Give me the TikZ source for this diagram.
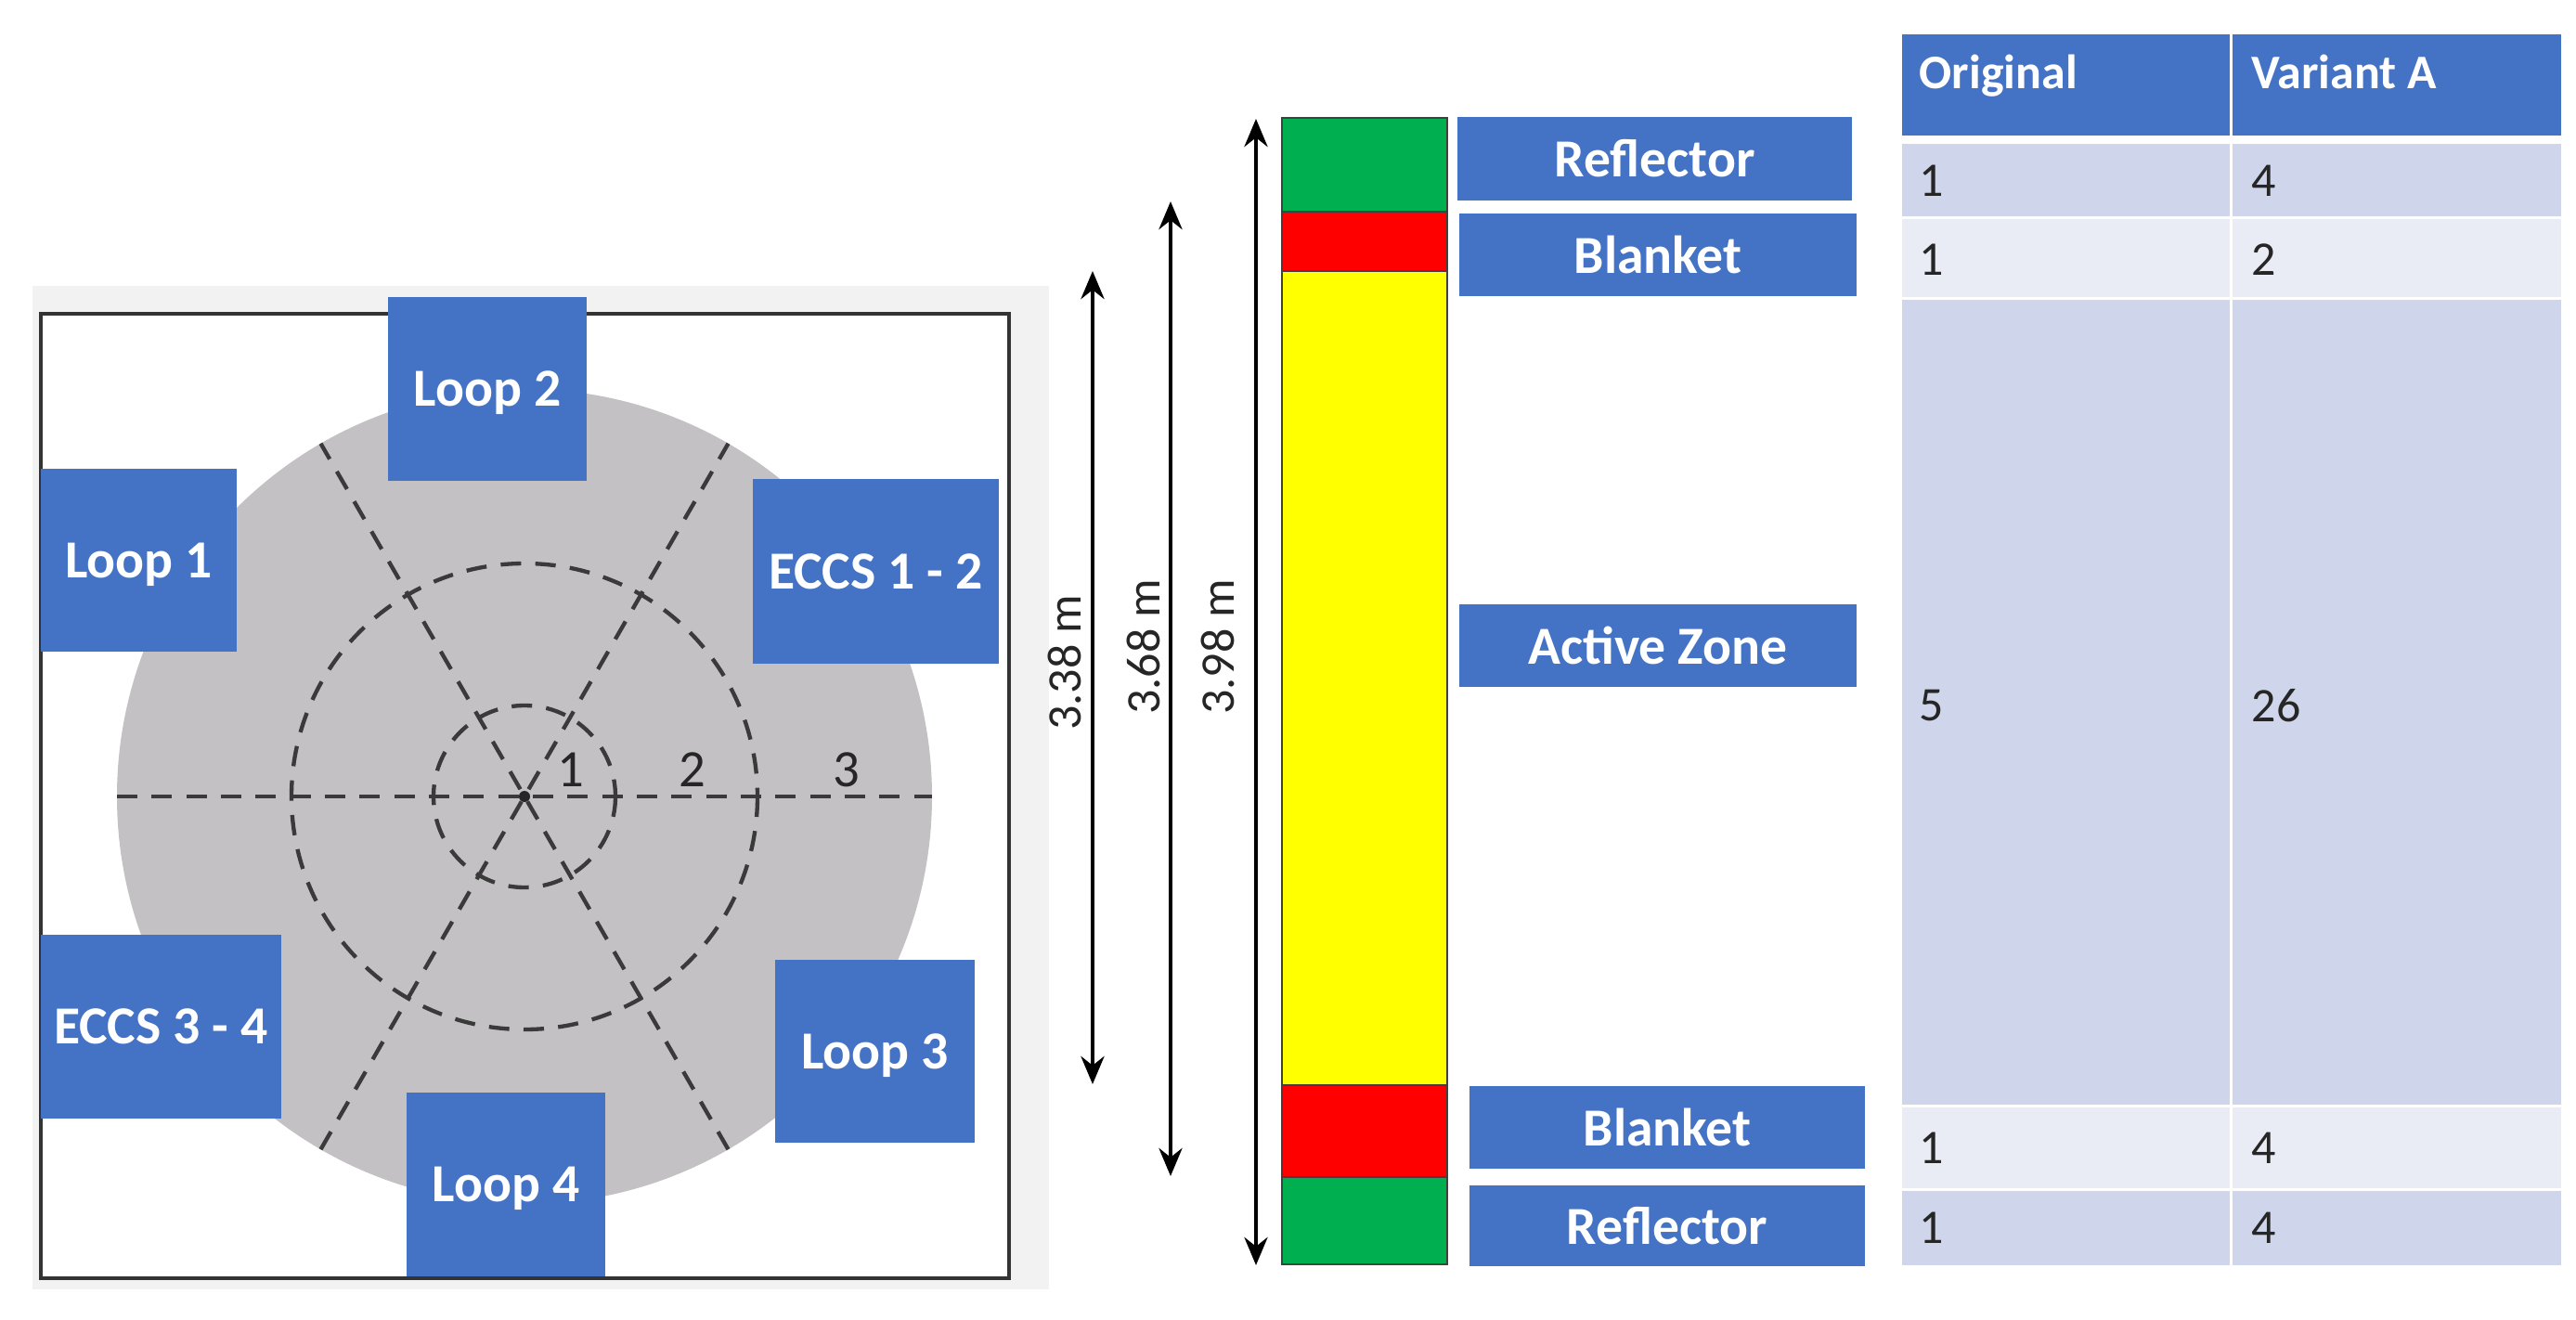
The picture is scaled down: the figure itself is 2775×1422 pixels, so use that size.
\documentclass[tikz,border=0pt]{standalone}
\usepackage{fontspec}
\setmainfont{Carlito}
\usetikzlibrary{arrows.meta,calc}
\definecolor{hdr}{HTML}{4472C4}
\definecolor{rowa}{HTML}{CFD5EA}
\definecolor{rowb}{HTML}{E9EBF5}
\definecolor{panel}{HTML}{F2F2F2}
\definecolor{disc}{HTML}{C3C1C3}
\definecolor{dashc}{HTML}{3A3A3A}
\definecolor{seg green}{HTML}{00B050}
\definecolor{seg red}{HTML}{FF0000}
\definecolor{seg yellow}{HTML}{FFFF00}
\newcommand{\pxbox}[7]{% name, style, x1, y1, x2, y2, text
  \node[#2,minimum width={(#5-#3)*0.3pt},minimum height={(#6-#4)*0.3pt}] (#1) at ({(#3+#5)/2},{(#4+#6)/2}) {#7};}
\tikzset{
  x=0.3pt,y=-0.3pt,
  bluebox/.style={draw=none,fill=hdr,inner sep=0pt,text=white,font=\fontsize{17.3}{20}\selectfont\bfseries},
  loopbox/.style={bluebox,text depth=0pt},
  seg/.style={draw=black!75,line width=0.4pt,inner sep=0pt},
  cell/.style={draw=none,inner sep=0pt},
  celltext/.style={anchor=west,inner sep=0pt,font=\fontsize{15.6}{18}\selectfont,text=black!85},
  headtext/.style={anchor=base west,inner sep=0pt,text=white,font=\fontsize{15.6}{18}\selectfont\bfseries},
  dashline/.style={draw=dashc,line width=1.3pt,dash pattern=on 6.6pt off 4.6pt},
  dim/.style={line width=1.4pt,{Stealth[length=9pt,width=7.5pt]}-{Stealth[length=9pt,width=7.5pt]}},
  dimtext/.style={rotate=90,inner sep=0pt,font=\fontsize{15.6}{18}\selectfont,text=black!85},
  zone/.style={inner sep=0pt,font=\fontsize{17}{20}\selectfont,text=black!85}
}
\begin{document}
\begin{tikzpicture}
\useasboundingbox (0,0) rectangle (2775,1422);
% left panel
\fill[panel] (35,308) rectangle (1130,1389);
\draw[fill=white,draw=black!80,line width=1pt] (44,338) rectangle (1087,1377);
\coordinate (c) at (565,858);
\fill[disc] (c) circle[radius=439];
\draw[dashline] (c) circle[radius=251];
\draw[dashline] (c) circle[radius=98];
\foreach \a/\n in {0/a,60/b,120/d,180/e,240/f,300/g}{
  \coordinate (sp\n) at ($(c)+(\a:439)$);
}
\draw[dashline] (spe) -- (spa);
\draw[dashline] (spd) -- (spg);
\draw[dashline] (spb) -- (spf);
\fill[black!85] (c) circle[radius=6];
\node[zone] (n1) at (615,829) {1};
\node[zone] (n2) at (746,829) {2};
\node[zone] (n3) at (912,829) {3};
\pxbox{loop2}{loopbox}{418}{320}{632}{518}{Loop 2}
\pxbox{loop1}{loopbox}{44}{505}{255}{702}{Loop 1}
\pxbox{eccsa}{bluebox}{811}{516}{1076}{715}{ECCS 1 - 2}
\pxbox{eccsb}{bluebox}{44}{1007}{303}{1205}{ECCS 3 - 4}
\pxbox{loop3}{loopbox}{835}{1034}{1050}{1231}{Loop 3}
\pxbox{loop4}{loopbox}{438}{1177}{652}{1375}{Loop 4}
% dimension arrows
\coordinate (a1t) at (1177,292); \coordinate (a1b) at (1177,1168);
\coordinate (a2t) at (1261,217); \coordinate (a2b) at (1261,1267);
\coordinate (a3t) at (1353,128); \coordinate (a3b) at (1353,1363);
\draw[dim] (a1t) -- (a1b);
\draw[dim] (a2t) -- (a2b);
\draw[dim] (a3t) -- (a3b);
\node[dimtext] (d1) at (1147,714) {3.38 m};
\node[dimtext] (d2) at (1232,697) {3.68 m};
\node[dimtext] (d3) at (1312,697) {3.98 m};
% column
\pxbox{sa}{seg,fill=seg green}{1381}{127}{1559}{228}{}
\pxbox{sb}{seg,fill=seg red}{1381}{228}{1559}{292}{}
\pxbox{sc}{seg,fill=seg yellow}{1381}{292}{1559}{1169}{}
\pxbox{sd}{seg,fill=seg red}{1381}{1169}{1559}{1268}{}
\pxbox{se}{seg,fill=seg green}{1381}{1268}{1559}{1362}{}
% zone labels
\pxbox{la}{bluebox}{1570}{126}{1995}{216}{Reflector}
\pxbox{lb}{bluebox}{1572}{230}{2000}{319}{Blanket}
\pxbox{lc}{bluebox}{1572}{651}{2000}{740}{Active Zone}
\pxbox{ld}{bluebox}{1583}{1170}{2009}{1259}{Blanket}
\pxbox{le}{bluebox}{1583}{1277}{2009}{1364}{Reflector}
% table
\pxbox{h1}{cell,fill=hdr}{2049}{37}{2402}{146}{}
\pxbox{h2}{cell,fill=hdr}{2405}{37}{2759}{146}{}
\pxbox{r1a}{cell,fill=rowa}{2049}{155}{2402}{233}{}
\pxbox{r1b}{cell,fill=rowa}{2405}{155}{2759}{233}{}
\pxbox{r2a}{cell,fill=rowb}{2049}{236}{2402}{320}{}
\pxbox{r2b}{cell,fill=rowb}{2405}{236}{2759}{320}{}
\pxbox{r3a}{cell,fill=rowa}{2049}{323}{2402}{1190}{}
\pxbox{r3b}{cell,fill=rowa}{2405}{323}{2759}{1190}{}
\pxbox{r4a}{cell,fill=rowb}{2049}{1193}{2402}{1280}{}
\pxbox{r4b}{cell,fill=rowb}{2405}{1193}{2759}{1280}{}
\pxbox{r5a}{cell,fill=rowa}{2049}{1283}{2402}{1363}{}
\pxbox{r5b}{cell,fill=rowa}{2405}{1283}{2759}{1363}{}
\node[headtext] (th1) at (2067,96) {Original};
\node[headtext] (th2) at (2425,96) {Variant A};
\node[celltext] (t1a) at (2067,195) {1};
\node[celltext] (t1b) at (2425,195) {4};
\node[celltext] (t2a) at (2067,280) {1};
\node[celltext] (t2b) at (2425,280) {2};
\node[celltext] (t3a) at (2067,760) {5};
\node[celltext] (t3b) at (2425,760) {26};
\node[celltext] (t4a) at (2067,1237) {1};
\node[celltext] (t4b) at (2425,1237) {4};
\node[celltext] (t5a) at (2067,1323) {1};
\node[celltext] (t5b) at (2425,1323) {4};
\end{tikzpicture}
\end{document}
